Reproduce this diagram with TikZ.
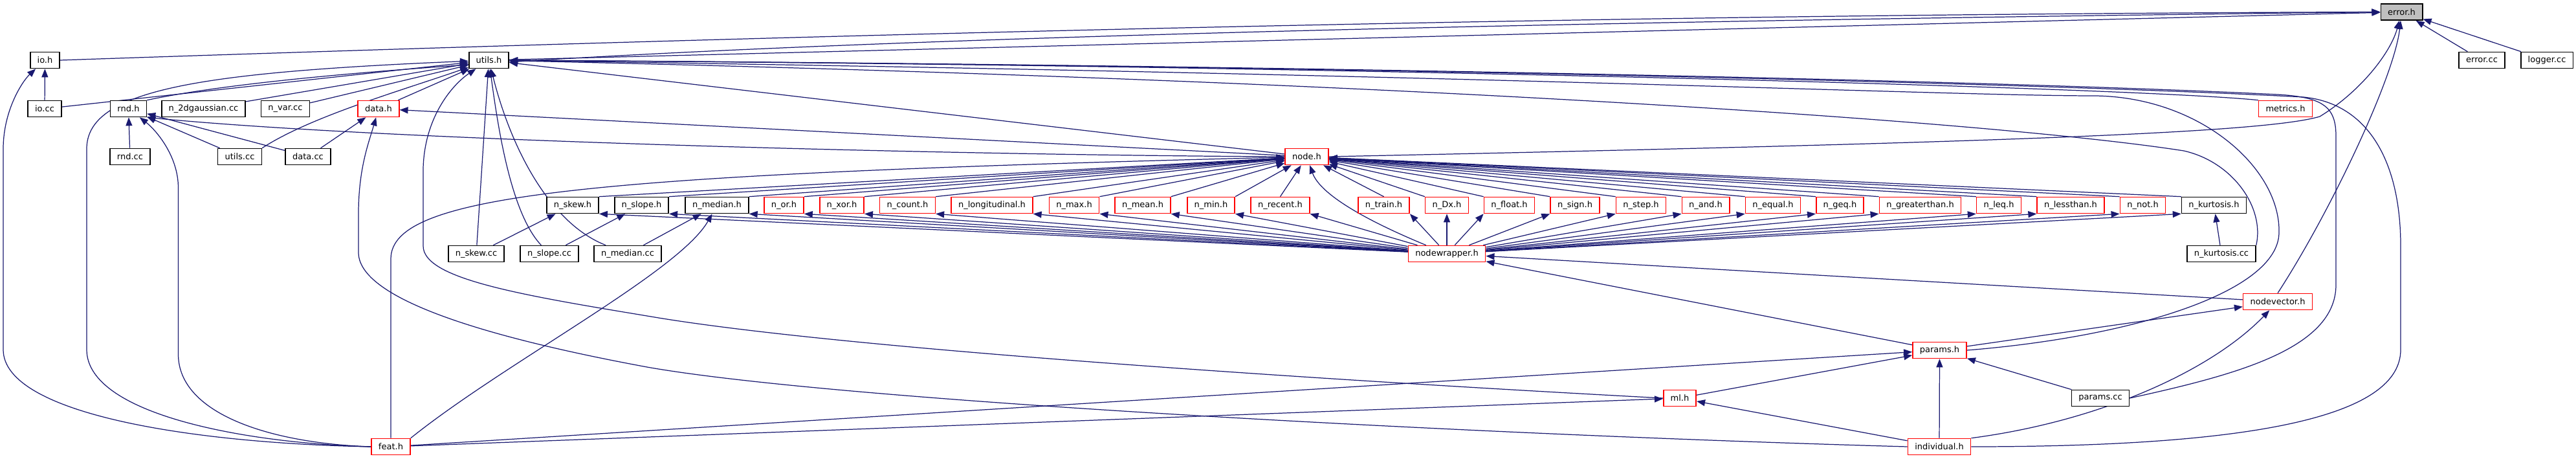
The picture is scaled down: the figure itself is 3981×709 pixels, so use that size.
\documentclass[tikz,border=0pt]{standalone}
\usepackage{fontspec}
\setmainfont{DejaVu Sans}
\usepackage{tikz}
\usetikzlibrary{arrows.meta,backgrounds}
\definecolor{edgeblue}{RGB}{25,25,112}
\definecolor{cutred}{RGB}{255,0,0}
\definecolor{focus}{RGB}{191,191,191}

\begin{document}
\begin{tikzpicture}[x=0.01cm, y=-0.01cm, >={Triangle[length=0.13cm, width=0.1cm]},
  file/.style={draw=black, fill=white, line width=0.45pt, inner xsep=3.1pt, inner ysep=0pt,
    minimum height=0.25cm, font=\fontsize{3.7}{4.4}\selectfont},
  cut/.style={file, draw=cutred},
  dep/.style={->, color=edgeblue, line width=0.35pt}]
  \useasboundingbox (0,0) rectangle (3981,709);

  % The included file
  \node[file, fill=focus] (errorh) at (3711.5,18.5) {error.h};

  % Upper files
  \node[file] (ioh) at (69.5,93) {io.h};
  \node[file] (utilsh) at (755.5,93) {utils.h};
  \node[file] (errorcc) at (3835.5,93) {error.cc};
  \node[file] (loggercc) at (3936,93) {logger.cc};
  \node[file] (iocc) at (69,168) {io.cc};
  \node[file] (rndh) at (198.5,168) {rnd.h};
  \node[file] (gausscc) at (314.5,168) {n\_2dgaussian.cc};
  \node[file] (varcc) at (441,168) {n\_var.cc};
  \node[cut] (datah) at (585,168) {data.h};
  \node[cut] (metricsh) at (3532,168) {metrics.h};
  \node[file] (rndcc) at (201,242) {rnd.cc};
  \node[file] (utilscc) at (370.5,242) {utils.cc};
  \node[file] (datacc) at (476,242) {data.cc};
  \node[cut] (nodeh) at (2019.5,242) {node.h};

  % Row of node types
  \foreach \n/\lbl/\x/\c in {skew/skew/885/black, slope/slope/991.5/black, median/median/1108/black,
      or/or/1211.5/cutred, xor/xor/1301/cutred, count/count/1402.5/cutred,
      longi/longitudinal/1533/cutred, max/max/1660/cutred, mean/mean/1766/cutred,
      min/min/1871.5/cutred, recent/recent/1978.5/cutred, train/train/2138.5/cutred,
      Dx/Dx/2236/cutred, float/float/2332.5/cutred, sign/sign/2434/cutred,
      step/step/2536/cutred, and/and/2636/cutred, equal/equal/2740/cutred,
      geq/geq/2843.5/cutred, greater/greaterthan/2967.5/cutred, leq/leq/3089/cutred,
      less/lessthan/3200/cutred, not/not/3311.5/cutred, kurt/kurtosis/3421.5/black}
    \node[file, draw=\c] (n\n) at (\x,317) {n\_\lbl.h};

  % Lower files
  \node[file] (skewcc) at (736,392) {n\_skew.cc};
  \node[file] (slopecc) at (849,392) {n\_slope.cc};
  \node[file] (mediancc) at (970,392) {n\_median.cc};
  \node[cut] (wrapperh) at (2236,392) {nodewrapper.h};
  \node[file] (kurtcc) at (3433,392) {n\_kurtosis.cc};
  \node[cut] (vectorh) at (3520,466) {nodevector.h};
  \node[cut] (paramsh) at (2997.5,541) {params.h};
  \node[cut] (mlh) at (2596,615) {ml.h};
  \node[file] (paramscc) at (3246,615) {params.cc};
  \node[cut] (feath) at (604,690) {feat.h};
  \node[cut] (indivh) at (2997,690) {individual.h};

  \begin{scope}[on background layer]
    % into error.h
    \draw[dep] (ioh.east) .. controls (1500,45) and (2600,22) .. (errorh.west);
    \draw[dep] (rndh.north east) .. controls (600,75) and (2000,38) .. (errorh.west);
    \draw[dep] (utilsh) -- (errorh);
    \draw[dep] (nodeh.east) .. controls (3100,220) and (3500,205) .. (3585,180) .. controls (3650,140) and (3695,80) .. (errorh);
    \draw[dep] (vectorh.north) .. controls (3600,330) and (3700,120) .. (errorh);
    \draw[dep] (errorcc) -- (errorh);
    \draw[dep] (loggercc) -- (errorh);

    % into io.h
    \draw[dep] (iocc) -- (ioh);
    \draw[dep] (feath.west) .. controls (300,685) and (5,640) .. (5,540) -- (5,230) .. controls (5,170) and (35,125) .. (ioh);

    % into utils.h
    \draw[dep] (iocc) -- (utilsh);
    \draw[dep] (feath.west) .. controls (380,685) and (134,640) .. (134,540) -- (134,230) .. controls (134,140) and (300,112) .. (utilsh);
    \draw[dep] (gausscc) -- (utilsh);
    \draw[dep] (varcc) -- (utilsh);
    \draw[dep] (datah) -- (utilsh);
    \draw[dep] (utilscc.north east) .. controls (480,180) and (620,140) .. (utilsh);
    \draw[dep] (mlh.west) .. controls (2100,590) and (1300,540) .. (1000,488) .. controls (800,455) and (654,430) .. (654,380) -- (654,260) .. controls (656,180) and (700,130) .. (utilsh);
    \draw[dep] (skewcc) -- (utilsh);
    \draw[dep] (slopecc) .. controls (790,330) and (770,200) .. (utilsh);
    \draw[dep] (mediancc) .. controls (850,345) and (790,230) .. (utilsh);
    \draw[dep] (nodeh) -- (utilsh);
    \draw[dep] (metricsh.north west) .. controls (3300,135) and (2000,100) .. (utilsh);
    \draw[dep] (paramscc.east) .. controls (3450,580) and (3610,540) .. (3610,440) -- (3610,210) .. controls (3610,165) and (3590,150) .. (3520,146) .. controls (3100,125) and (2000,100) .. (utilsh);
    \draw[dep] (indivh.east) .. controls (3500,690) and (3710,640) .. (3710,540) -- (3710,380) .. controls (3710,250) and (3660,160) .. (3560,150) .. controls (3150,128) and (2000,100) .. (utilsh);
    \draw[dep] (paramsh.east) .. controls (3300,520) and (3520,450) .. (3522,360) .. controls (3525,260) and (3400,150) .. (3238,148) .. controls (3000,148) and (2300,115) .. (utilsh);
    \draw[dep] (kurtcc.north east) .. controls (3500,320) and (3450,250) .. (3375,233) .. controls (3100,190) and (2200,125) .. (utilsh);

    % into rnd.h
    \draw[dep] (rndcc) -- (rndh);
    \draw[dep] (utilscc) -- (rndh);
    \draw[dep] (datacc) -- (rndh);
    \draw[dep] (nodeh.west) .. controls (1500,240) and (600,218) .. (rndh.south east);
    \draw[dep] (feath.west) .. controls (420,685) and (275.5,640) .. (275.5,547) -- (275.5,290) .. controls (275.5,240) and (240,200) .. (rndh);

    % into data.h
    \draw[dep] (datacc) -- (datah);
    \draw[dep] (nodeh) -- (datah);
    \draw[dep] (indivh.west) .. controls (2300,672) and (1300,620) .. (1000,567) .. controls (800,530) and (554,470) .. (554,390) -- (554,330) .. controls (554,260) and (570,220) .. (datah);

    % into node.h and the node types
    \draw[dep] (feath.north) -- (604,400) .. controls (604,300) and (900,270) .. (nodeh);
    \draw[dep] (wrapperh) .. controls (2110,340) and (2040,300) .. (nodeh);
    \foreach \n/\u/\d in {skew/north east/south east, slope/north east/south east,
        median/north east/south east, or/north east/south east, xor/north east/south east,
        count/north east/south east, longi/north east/south east, max/north east/south east,
        mean/north east/south east, min/north east/south east, recent/north/south east,
        train/north/south east, Dx/north west/south, float/north west/south west,
        sign/north west/south west, step/north west/south west, and/north west/south west,
        equal/north west/south west, geq/north west/south west, greater/north west/south west,
        leq/north west/south west, less/north west/south west, not/north west/south west,
        kurt/north west/south west} {
      \draw[dep] (n\n.\u) -- (nodeh);
      \draw[dep] (wrapperh) -- (n\n.\d);
    }
    \draw[dep] (skewcc) -- (nskew);
    \draw[dep] (slopecc) -- (nslope);
    \draw[dep] (mediancc) -- (nmedian);
    \draw[dep] (kurtcc) -- (nkurt);
    \draw[dep] (feath.north east) .. controls (780,560) and (1050,420) .. (nmedian);

    % into nodewrapper.h and nodevector.h
    \draw[dep] (paramsh) -- (wrapperh);
    \draw[dep] (vectorh) -- (wrapperh);
    \draw[dep] (paramsh) -- (vectorh);
    \draw[dep] (indivh.north east) .. controls (3250,650) and (3420,570) .. (vectorh);

    % into params.h and ml.h
    \draw[dep] (mlh) -- (paramsh);
    \draw[dep] (indivh) -- (paramsh);
    \draw[dep] (paramscc) -- (paramsh);
    \draw[dep] (feath) -- (paramsh);
    \draw[dep] (feath) -- (mlh);
    \draw[dep] (indivh) -- (mlh);
  \end{scope}
\end{tikzpicture}
\end{document}
